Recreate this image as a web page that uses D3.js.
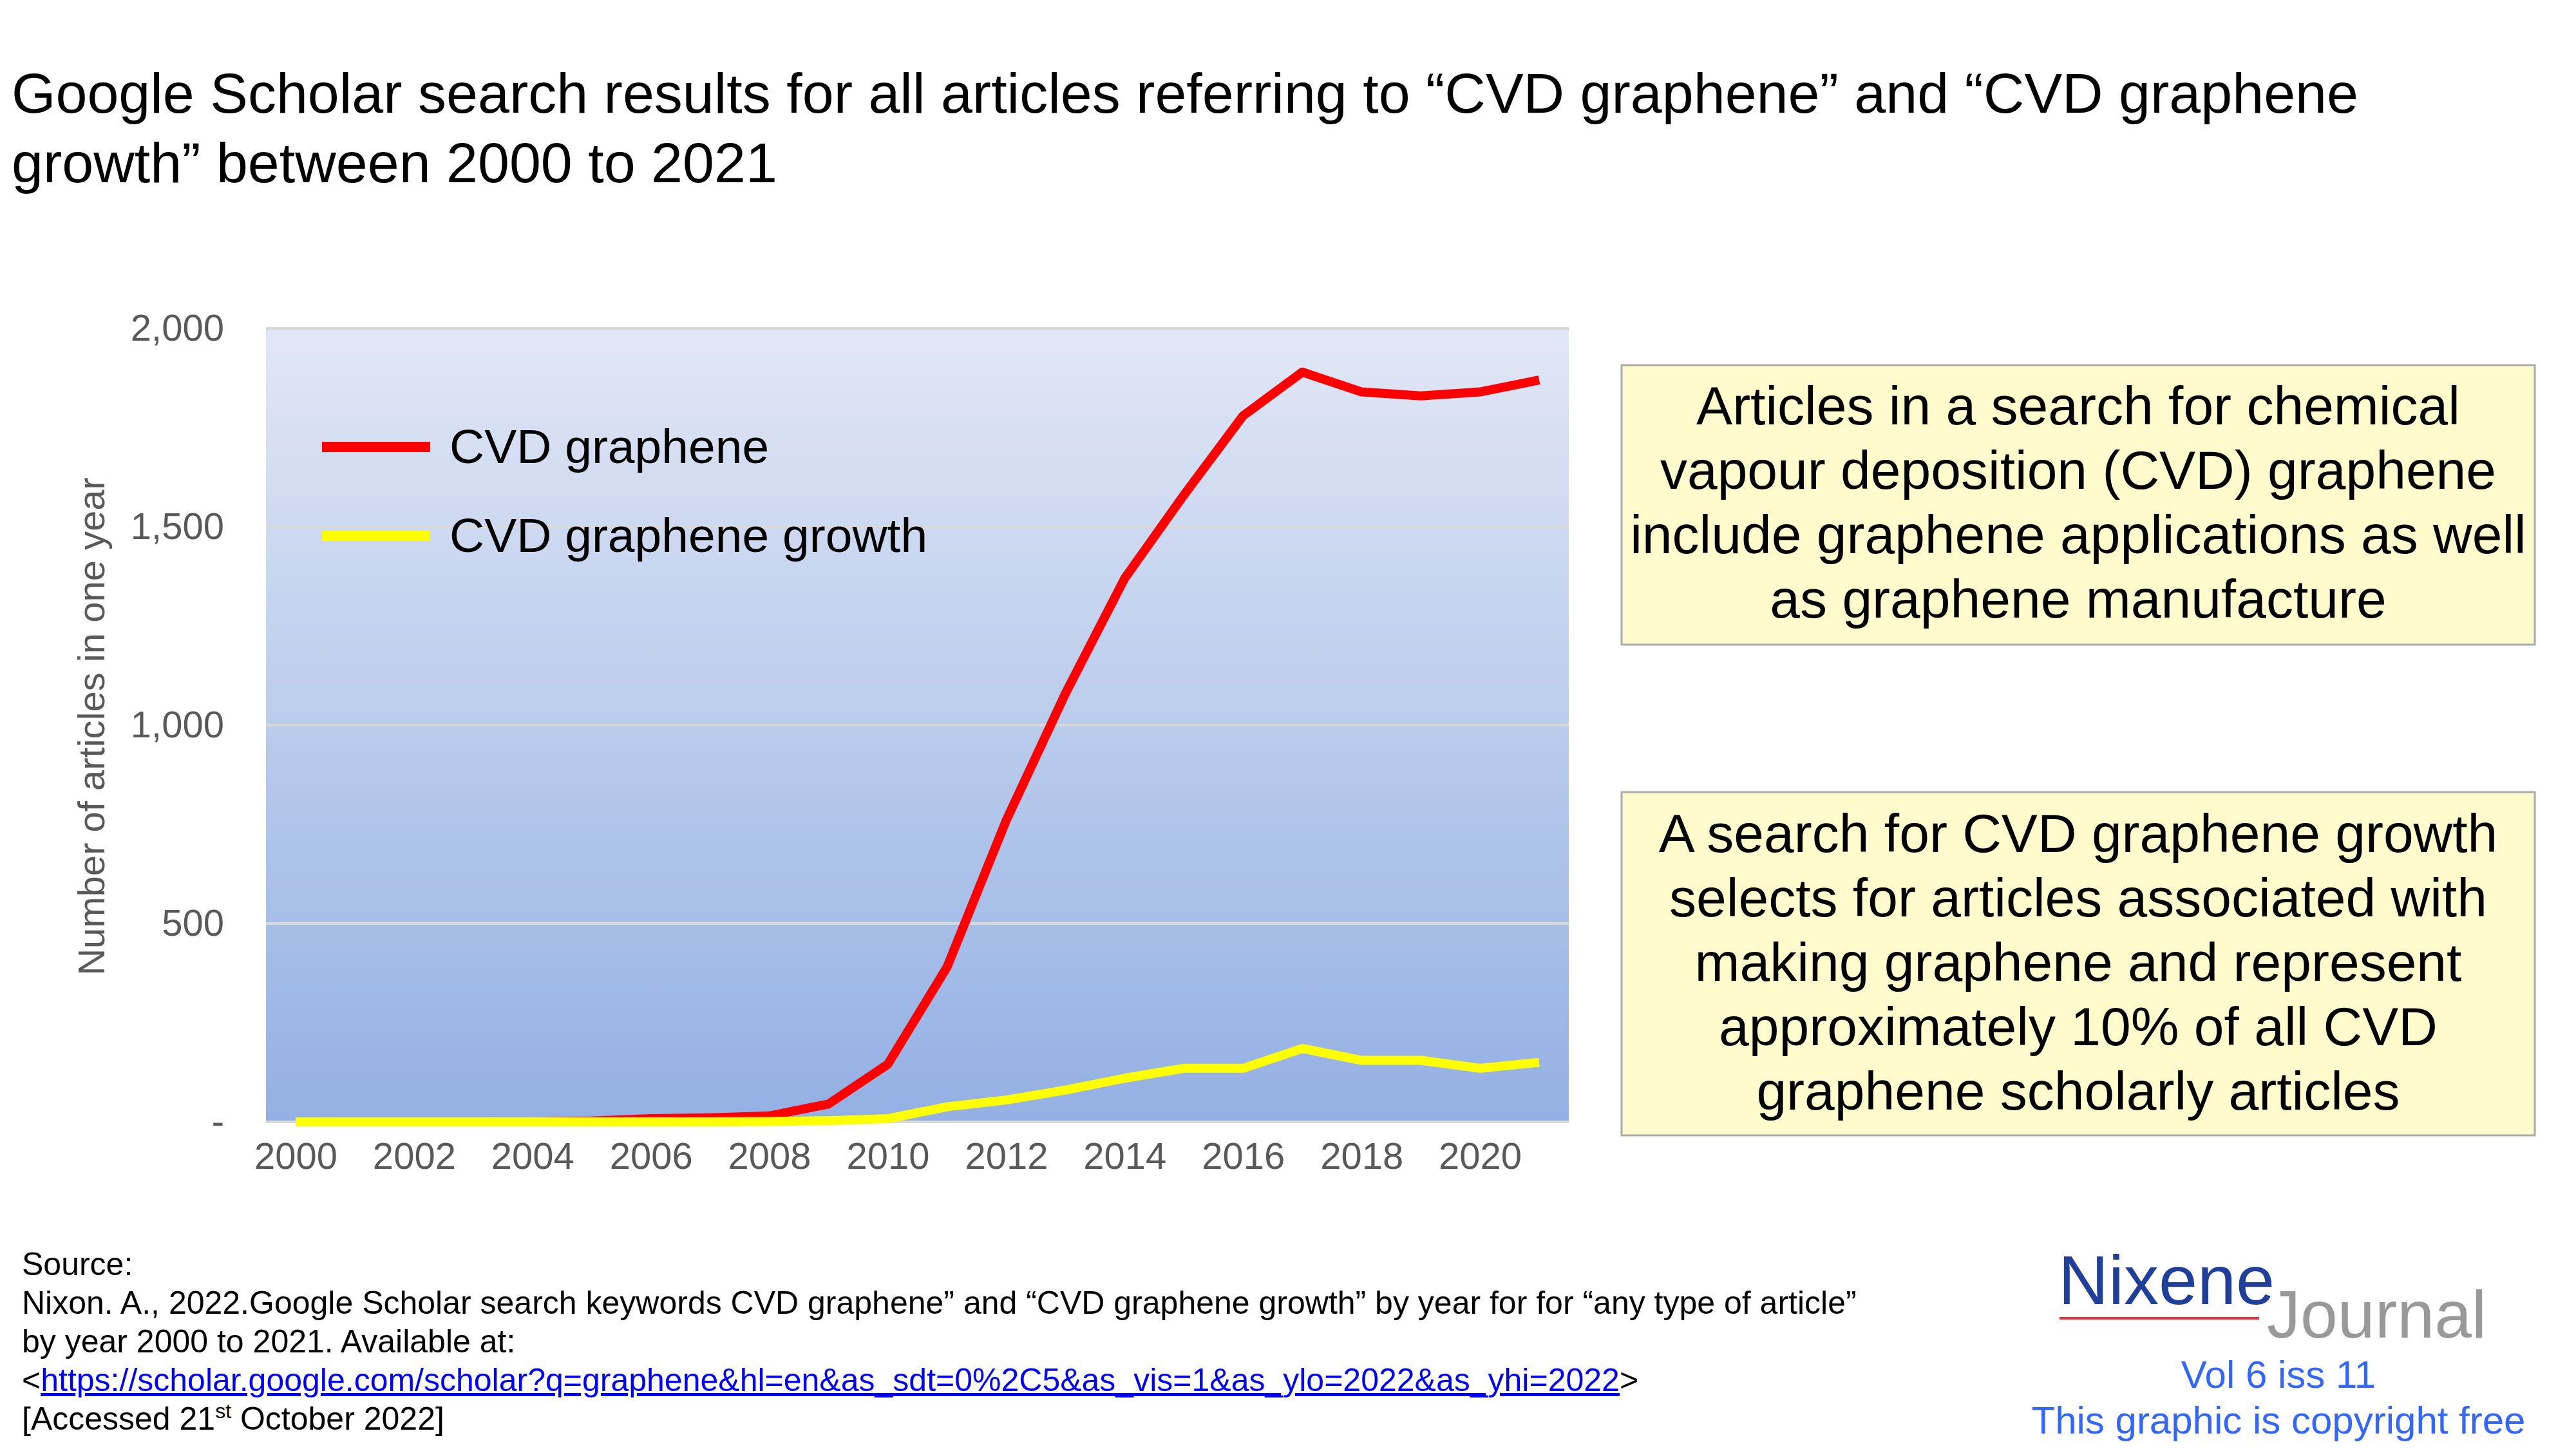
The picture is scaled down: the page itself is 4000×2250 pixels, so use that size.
<!DOCTYPE html>
<html><head><meta charset="utf-8">
<script src="https://cdn.jsdelivr.net/npm/d3@7"></script>
<style>body{margin:0;background:#fff}svg{font-family:"Liberation Sans",Arial,sans-serif}</style>
</head><body><svg id="c" width="4000" height="2250"></svg>
<script>
const years = d3.range(2000, 2022);
const cvdGraphene = [0,0,0,0,0,2,8,10,15,45,145,390,760,1080,1370,1580,1780,1890,1840,1830,1840,1870];
const cvdGrowth   = [0,0,0,0,0,0,0,0,1,3,8,38,55,80,110,135,135,185,155,155,135,150];
const yTicks = [0,500,1000,1500,2000];
const xTickYears = [2000,2002,2004,2006,2008,2010,2012,2014,2016,2018,2020];
const seriesNames = ["CVD graphene","CVD graphene growth"];
const seriesColors = ["#ff0000","#ffff00"];

const svg = d3.select("#c");
const L=413,R=2436,T=510,B=1742;
const x = d3.scalePoint().domain(years).range([L,R]).padding(0.5);
const y = d3.scaleLinear().domain([0,2000]).range([B,T]);

const defs = svg.append("defs");
const g = defs.append("linearGradient").attr("id","bg").attr("x1",0).attr("x2",0).attr("y1",0).attr("y2",1);
g.append("stop").attr("offset","0").attr("stop-color","#e1e7f5");
g.append("stop").attr("offset","1").attr("stop-color","#93b0e3");
svg.append("rect").attr("x",L).attr("y",T).attr("width",R-L).attr("height",B-T).attr("fill","url(#bg)");

// title
svg.append("text").attr("x",18).attr("y",175).attr("font-size",88).text("Google Scholar search results for all articles referring to “CVD graphene” and “CVD graphene");
svg.append("text").attr("x",18).attr("y",283).attr("font-size",88).text("growth” between 2000 to 2021");

// grid
svg.append("g").selectAll("line").data(yTicks).join("line")
  .attr("x1",L).attr("x2",R).attr("y1",d=>y(d)).attr("y2",d=>y(d))
  .attr("stroke","#d9d9d9").attr("stroke-width",4);

// axes
const ya = svg.append("g").attr("transform",`translate(${L-62},0)`)
  .call(d3.axisLeft(y).tickValues(yTicks).tickSize(0).tickFormat(d=>d===0?"-":d3.format(",")(d)));
ya.select(".domain").remove();
ya.selectAll("text").attr("font-size",58).attr("fill","#595959").attr("font-family","Liberation Sans, Arial").attr("dy","0.32em");
const xa = svg.append("g").attr("transform",`translate(0,${B})`)
  .call(d3.axisBottom(x).tickValues(xTickYears).tickSize(0));
xa.select(".domain").remove();
xa.selectAll("text").attr("font-size",58).attr("fill","#595959").attr("font-family","Liberation Sans, Arial").attr("dy","1.2em");

svg.append("text").attr("transform","translate(162,1128) rotate(-90)").attr("text-anchor","middle")
  .attr("font-size",58).attr("fill","#595959").text("Number of articles in one year");

// lines (growth drawn on top)
const line = d3.line().x((d,i)=>x(years[i])).y(d=>y(d));
[cvdGraphene,cvdGrowth].forEach((s,k)=>{
  svg.append("path").attr("d",line(s)).attr("fill","none")
    .attr("stroke",seriesColors[k]).attr("stroke-width",14).attr("stroke-linejoin","round");
});

// legend
seriesNames.forEach((n,i)=>{
  const yy = 694 + i*138;
  svg.append("line").attr("x1",500).attr("x2",668).attr("y1",yy).attr("y2",yy).attr("stroke",seriesColors[i]).attr("stroke-width",16);
  svg.append("text").attr("x",698).attr("y",yy+25).attr("font-size",75).text(n);
});

// boxes
function box(y0,h,lines,base){
  svg.append("rect").attr("x",2518).attr("y",y0).attr("width",1418).attr("height",h).attr("fill","#fffbcc").attr("stroke","#aaaaaa").attr("stroke-width",3);
  lines.forEach((t,i)=>svg.append("text").attr("x",3227).attr("y",base+i*100).attr("text-anchor","middle").attr("font-size",84).text(t));
}
box(567,434,["Articles in a search for chemical","vapour deposition (CVD) graphene","include graphene applications as well","as graphene manufacture"],659);
box(1230,533,["A search for CVD graphene growth","selects for articles associated with","making graphene and represent","approximately 10% of all CVD","graphene scholarly articles"],1323);

// source
const src = svg.append("g").attr("font-size",50);
src.append("text").attr("x",34).attr("y",1980).text("Source:");
src.append("text").attr("x",34).attr("y",2040).text("Nixon. A., 2022.Google Scholar search keywords CVD graphene” and “CVD graphene growth” by year for for “any type of article”");
src.append("text").attr("x",34).attr("y",2100).text("by year 2000 to 2021. Available at:");
const t4 = src.append("text").attr("x",34).attr("y",2160);
t4.append("tspan").text("<");
t4.append("tspan").attr("fill","#0000ff").attr("text-decoration","underline").text("https://scholar.google.com/scholar?q=graphene&hl=en&as_sdt=0%2C5&as_vis=1&as_ylo=2022&as_yhi=2022");
t4.append("tspan").text(">");
const t5 = src.append("text").attr("x",34).attr("y",2220);
t5.append("tspan").text("[Accessed 21");
t5.append("tspan").attr("font-size",32).attr("dy",-18).text("st");
t5.append("tspan").attr("dy",18).text(" October 2022]");

// logo
svg.append("text").attr("x",3196).attr("y",2025).attr("font-size",108).attr("fill","#1f3f9a").text("Nixene");
svg.append("line").attr("x1",3198).attr("x2",3508).attr("y1",2047).attr("y2",2047).attr("stroke","#e8303a").attr("stroke-width",4);
svg.append("text").attr("x",3520).attr("y",2077).attr("font-size",104).attr("fill","#999").text("Journal");
svg.append("text").attr("x",3538).attr("y",2155).attr("text-anchor","middle").attr("font-size",60).attr("fill","#3366ff").text("Vol 6 iss 11");
svg.append("text").attr("x",3538).attr("y",2226).attr("text-anchor","middle").attr("font-size",60).attr("fill","#3366ff").text("This graphic is copyright free");
</script></body></html>
